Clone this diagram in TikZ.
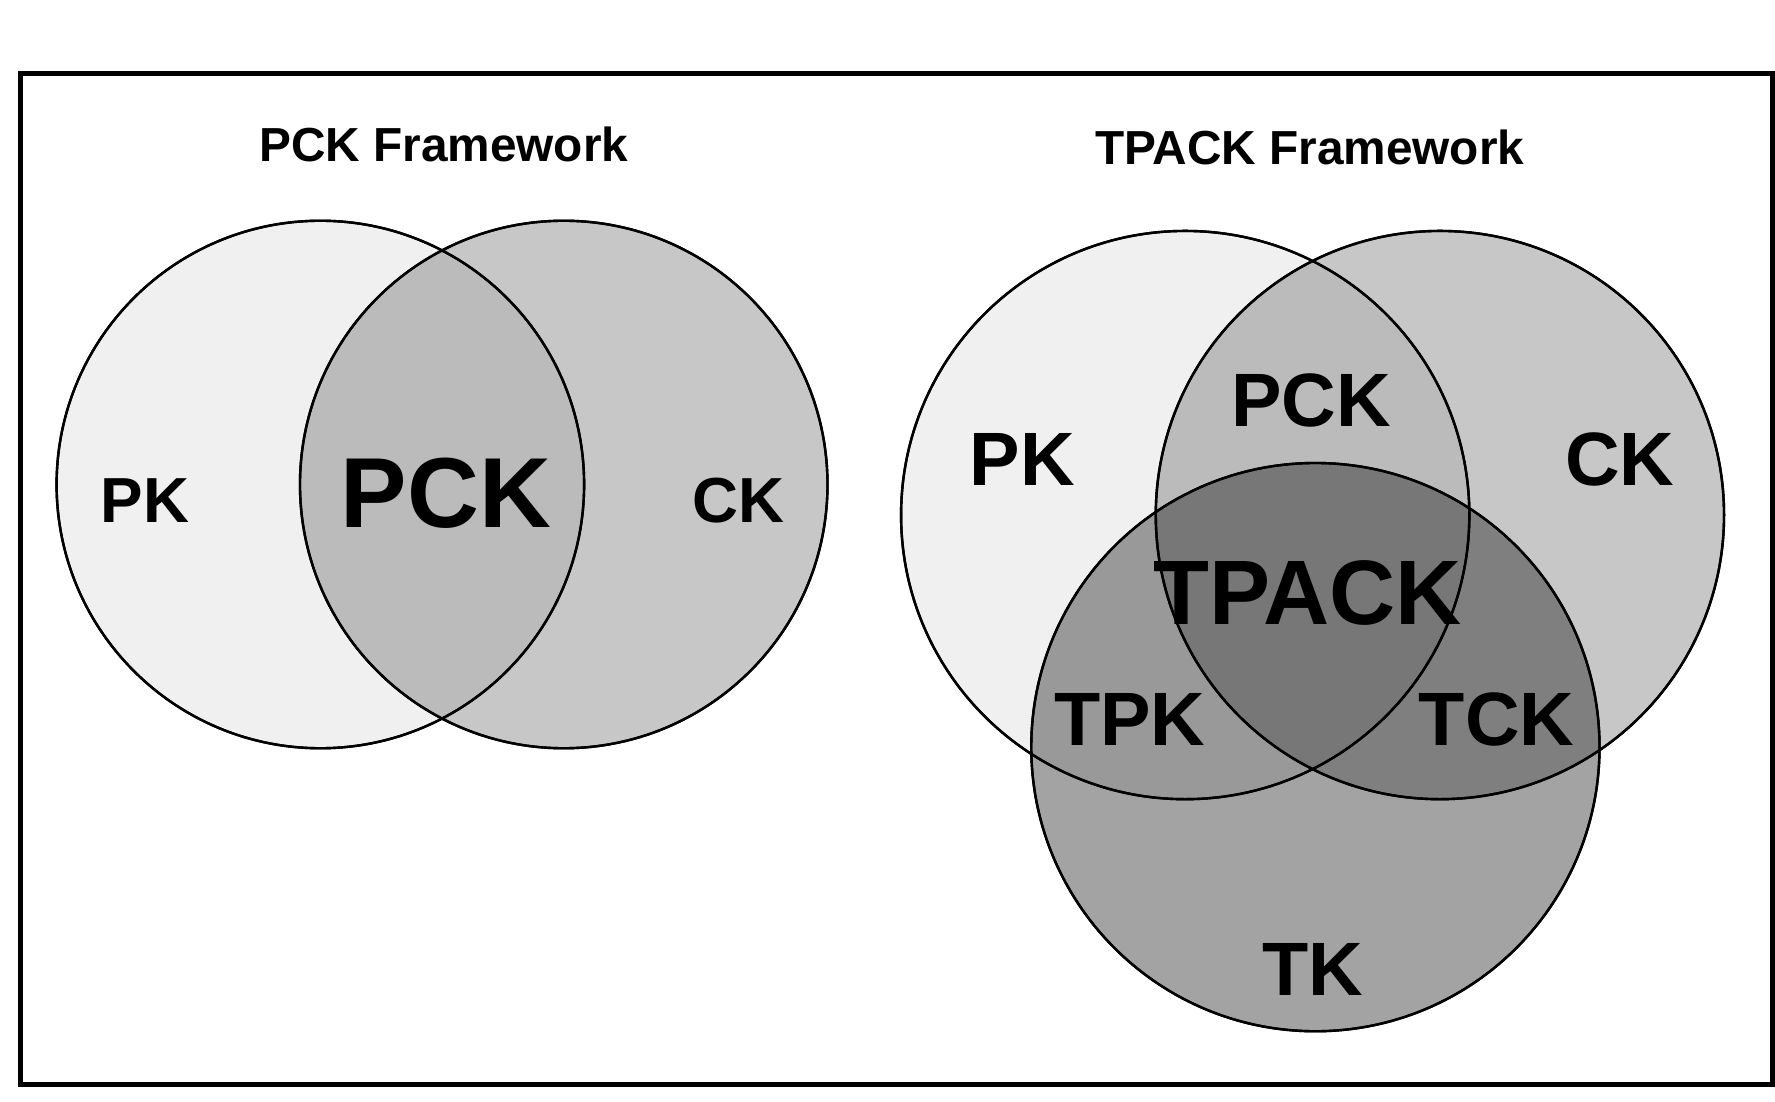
\documentclass[tikz,border=0pt]{standalone}
\usepackage{fontspec}
\setmainfont{Liberation Sans}
\tikzset{
  set/.style={draw=black, line width=0.6pt, blend mode=multiply},
  lbl/.style={font=\bfseries, inner sep=0pt}
}
\begin{document}
\begin{tikzpicture}[x=0.01cm, y=-0.01cm]
    \useasboundingbox (0,0) rectangle (1568,973);
    \draw[line width=1.2pt] (18,65) rectangle (1566,958);

    % PCK framework
    \begin{scope}[transparency group]
    \fill[black!6, set] (283,428) circle (233);
    \fill[black!22, set] (498,428) circle (233);
    \end{scope}
    \draw[line width=0.6pt] (283,428) circle (233) (498,428) circle (233);
    \node[lbl, font=\bfseries\fontsize{12}{14}\selectfont] (title1) at (392,128) {PCK Framework};
    \node[lbl, font=\bfseries\fontsize{16}{18}\selectfont] (pk1) at (128,442) {PK};
    \node[lbl, font=\bfseries\fontsize{16}{18}\selectfont] (ck1) at (652,442) {CK};
    \node[lbl, font=\bfseries\fontsize{25}{28}\selectfont] (pck1) at (394,436) {PCK};

    % TPACK framework
    \begin{scope}[transparency group]
    \fill[black!6, set] (1047,455) circle (251);
    \fill[black!22, set] (1272,455) circle (251);
    \fill[black!36, set] (1162,660) circle (251);
    \end{scope}
    \draw[line width=0.6pt] (1047,455) circle (251) (1272,455) circle (251) (1162,660) circle (251);
    \node[lbl, font=\bfseries\fontsize{12}{14}\selectfont] (title2) at (1157,130) {TPACK Framework};
    \node[lbl, font=\bfseries\fontsize{19}{22}\selectfont] (pk2) at (903,406) {PK};
    \node[lbl, font=\bfseries\fontsize{19}{22}\selectfont] (ck2) at (1431,406) {CK};
    \node[lbl, font=\bfseries\fontsize{19}{22}\selectfont] (pck2) at (1158,354) {PCK};
    \node[lbl, font=\bfseries\fontsize{23}{26}\selectfont] (tpack) at (1155,524) {TPACK};
    \node[lbl, font=\bfseries\fontsize{19}{22}\selectfont] (tpk) at (998,636) {TPK};
    \node[lbl, font=\bfseries\fontsize{19}{22}\selectfont] (tck) at (1322,636) {TCK};
    \node[lbl, font=\bfseries\fontsize{19}{22}\selectfont] (tk) at (1160,856) {TK};
\end{tikzpicture}
\end{document}
